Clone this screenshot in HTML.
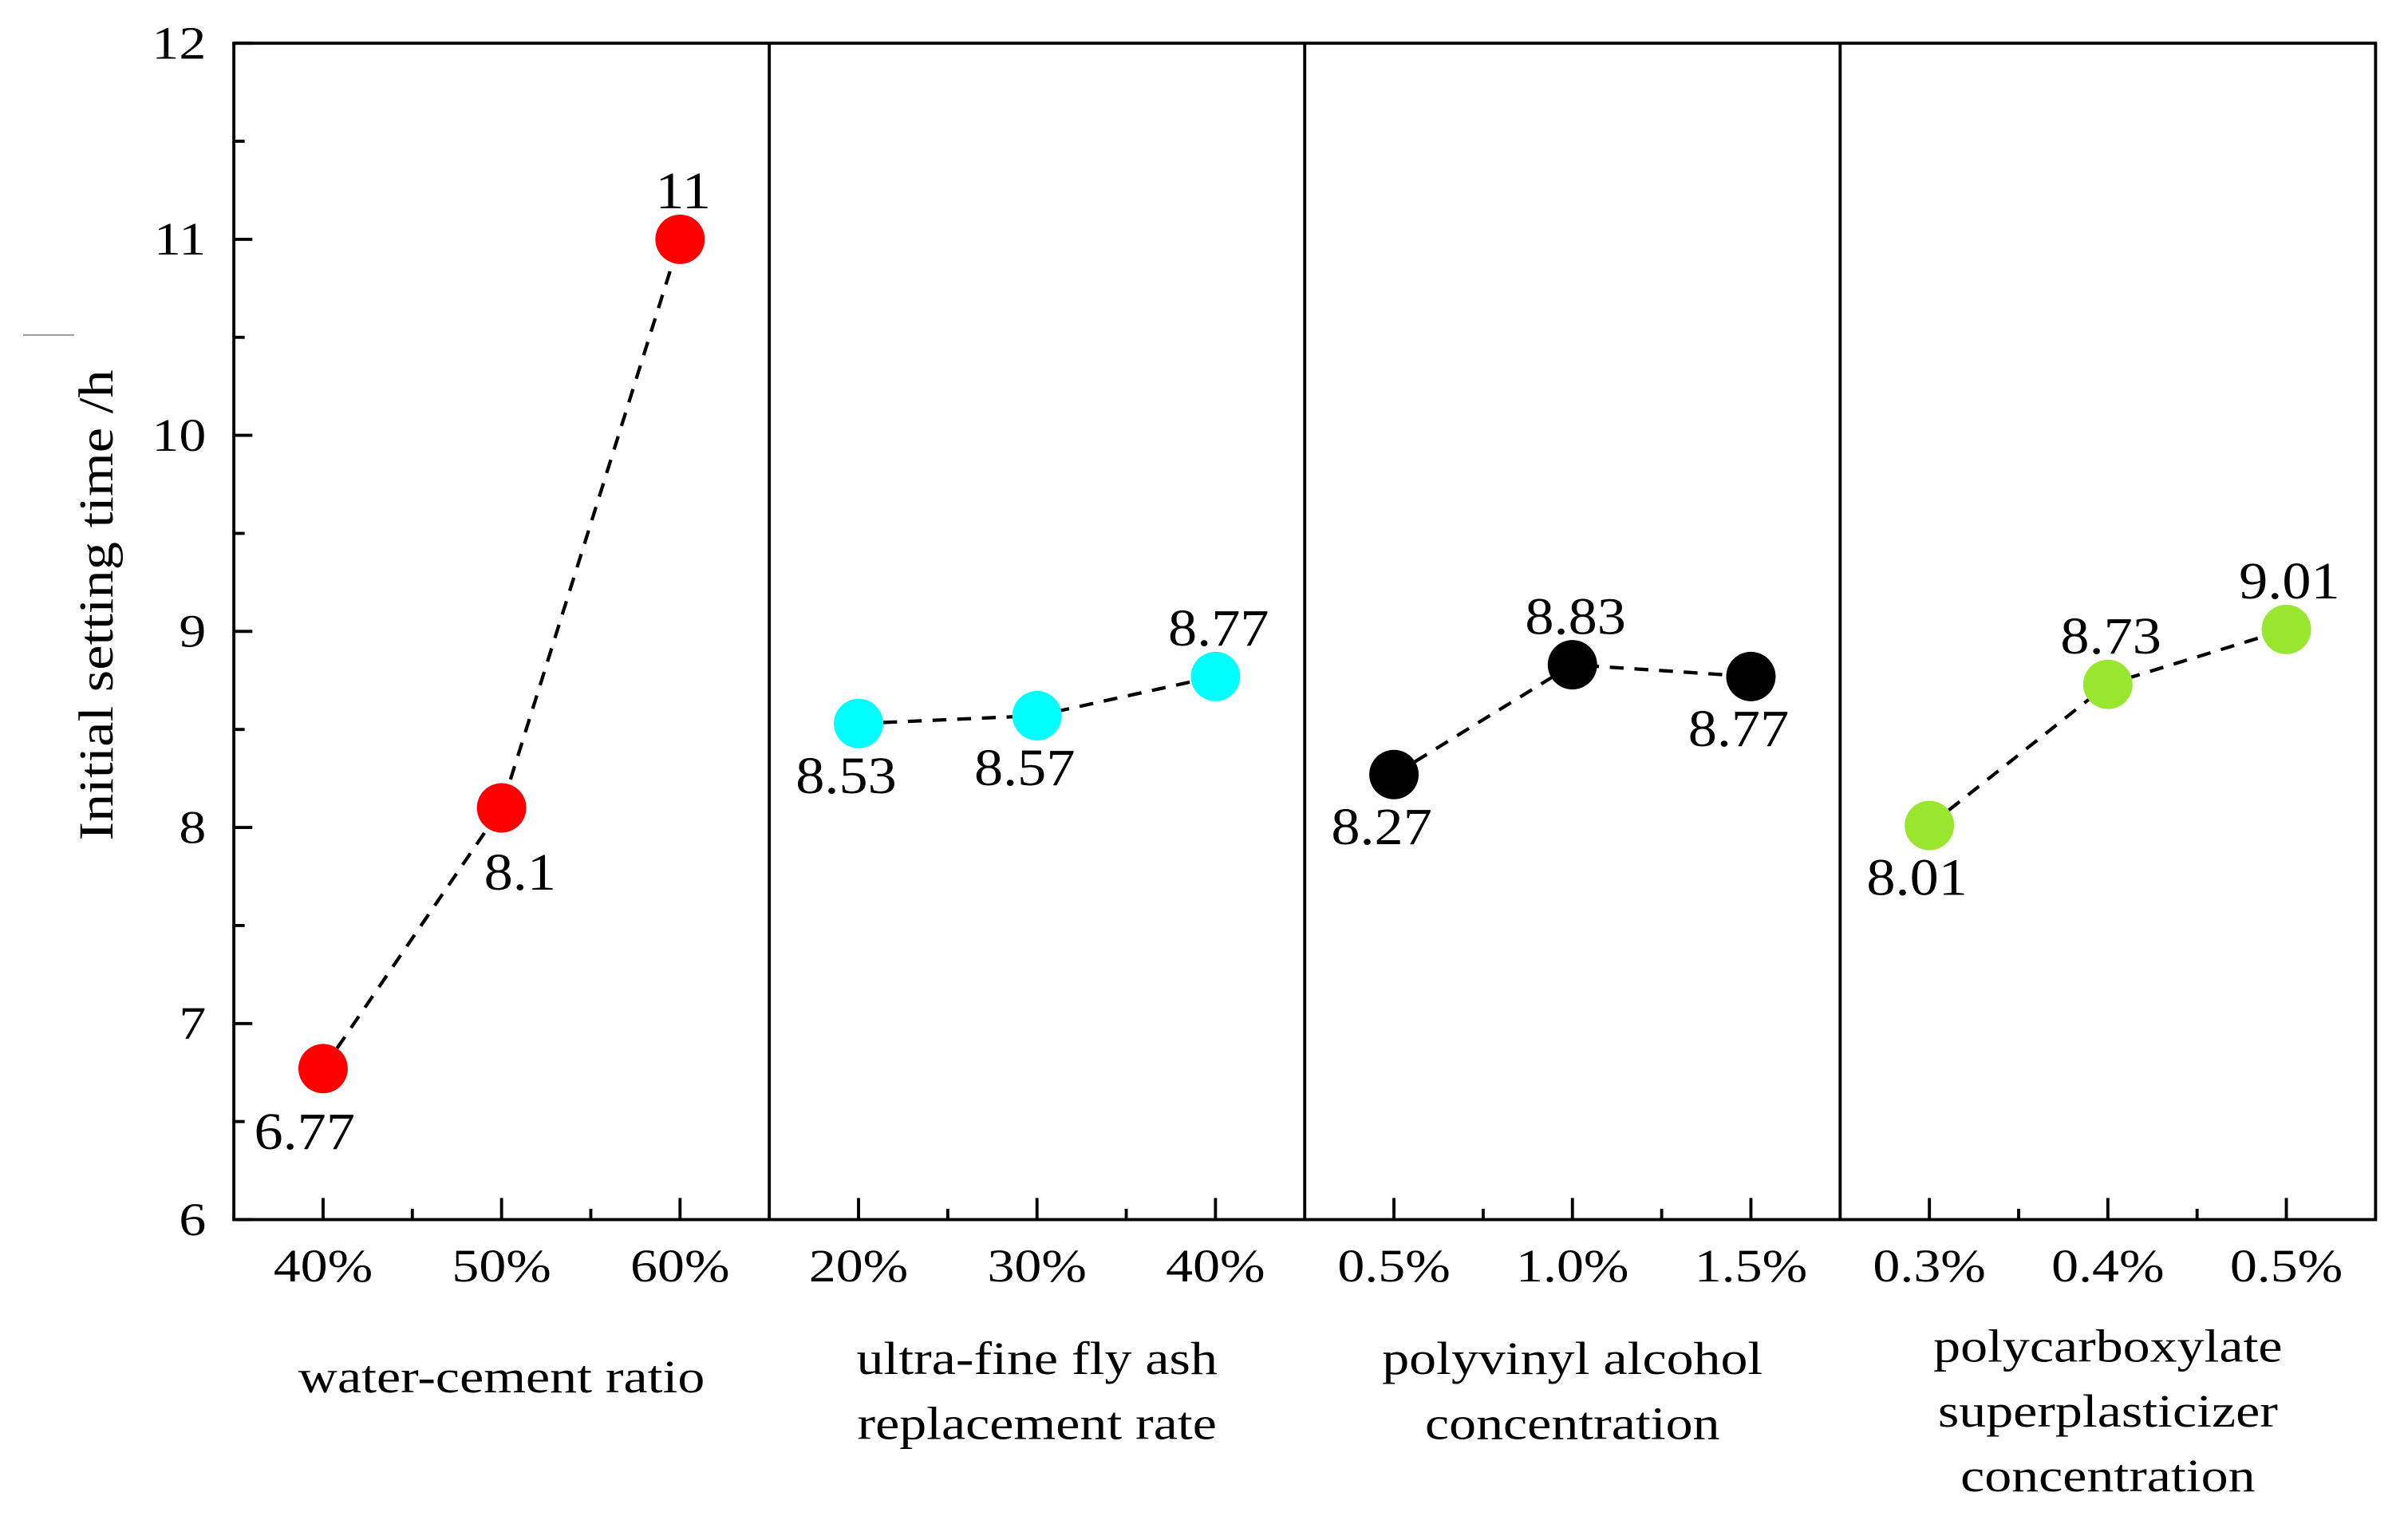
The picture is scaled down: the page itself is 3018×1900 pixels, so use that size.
<!DOCTYPE html>
<html><head><meta charset="utf-8"><style>
html,body{margin:0;padding:0;background:#fff;}
svg{display:block;font-family:"Liberation Serif",serif;}
</style></head><body>
<svg id="chart" width="3018" height="1900" viewBox="0 0 1560 982" preserveAspectRatio="none" xmlns="http://www.w3.org/2000/svg">
<line x1="15" y1="217" x2="48" y2="217" stroke="#999" stroke-width="1"/>
<text id="ytitle" transform="translate(73,392) rotate(-90)" text-anchor="middle" font-size="32" textLength="305" lengthAdjust="spacingAndGlyphs">Initial setting time /h</text>
<g id="g"></g>
</svg>
<script>
const panelTitles = [["water-cement ratio"],["ultra-fine fly ash","replacement rate"],["polyvinyl alcohol","concentration"],["polycarboxylate","superplasticizer","concentration"]];
const categories = [["40%","50%","60%"],["20%","30%","40%"],["0.5%","1.0%","1.5%"],["0.3%","0.4%","0.5%"]];
const seriesValues = [[6.77,8.1,11],[8.53,8.57,8.77],[8.27,8.83,8.77],[8.01,8.73,9.01]];
const valueLabels = [["6.77","8.1","11"],["8.53","8.57","8.77"],["8.27","8.83","8.77"],["8.01","8.73","9.01"]];
const colors = ["#ff0000","#00ffff","#000000","#99e62e"];
const labelPos = [["bl","br","t"],["b","b","t"],["b","t","b"],["b","t","t"]];
const yTicks = [6,7,8,9,10,11,12];

const L=151.5,R=1539,T=28,B=790,yMin=6,yMax=12;
const PW=(R-L)/4;
const y=v=>B-(v-yMin)/(yMax-yMin)*(B-T);
const x=(p,i)=>L+p*PW+(i+0.5)*PW/3;
const NS="http://www.w3.org/2000/svg";
const g=document.getElementById('g');
const stretch=[];
function mk(tag,attrs,txt){const e=document.createElementNS(NS,tag);for(const k in attrs)e.setAttribute(k,attrs[k]);if(txt!==undefined)e.textContent=txt;g.appendChild(e);return e;}

let e=mk('rect',{x:L,y:T,width:R-L,height:B-T,fill:'none',stroke:'#000','stroke-width':2});


for(let p=1;p<4;p++){
  e=mk('line',{x1:L+p*PW,y1:T,x2:L+p*PW,y2:B,stroke:'#000','stroke-width':2});
  
  
}
yTicks.forEach((v,i)=>{
  e=mk('line',{x1:L,y1:y(v),x2:L+12,y2:y(v),stroke:'#000','stroke-width':2});
  
  
  if(i<yTicks.length-1){
    e=mk('line',{x1:L,y1:y(v+0.5),x2:L+7,y2:y(v+0.5),stroke:'#000','stroke-width':2});
    
    
  }
  e=mk('text',{x:L-18,y:y(v)+10,'text-anchor':'end','font-size':30},String(v));
  
  
  stretch.push([e,1.17]);
});
for(let p=0;p<4;p++){
  const cx=L+p*PW+PW/2;
  panelTitles[p].forEach((t,k)=>{
    const n=panelTitles[p].length;
    const yy = n===1?902: (n===2?[890,932][k]:[882,924,966][k]);
    e=mk('text',{x:cx,y:yy,'text-anchor':'middle','font-size':30},t);
    
    
    stretch.push([e,1.17]);
  });
  const pts=seriesValues[p].map((v,i)=>[x(p,i),y(v)]);
  e=mk('polyline',{points:pts.map(q=>q.join(',')).join(' '),fill:'none',stroke:'#000','stroke-width':2.2,'stroke-dasharray':'9,7'});
  
  
  categories[p].forEach((c,i)=>{
    const xx=x(p,i);
    e=mk('line',{x1:xx,y1:B,x2:xx,y2:B-14,stroke:'#000','stroke-width':2});
    
    
    if(i<2){
      e=mk('line',{x1:xx+PW/6,y1:B,x2:xx+PW/6,y2:B-7,stroke:'#000','stroke-width':2});
      
      
    }
    e=mk('text',{x:xx,y:B+40,'text-anchor':'middle','font-size':30},c);
    
    
    stretch.push([e,1.17]);
  });
  pts.forEach((q,i)=>{
    e=mk('circle',{cx:q[0],cy:q[1],r:16,fill:colors[p]});
    
    
    const pos=labelPos[p][i];
    let lx=q[0],ly=q[1];
    if(pos==='t'){ly-=20;lx+=2;}
    else if(pos==='b'){ly+=45;lx-=8;}
    else if(pos==='bl'){ly+=52;lx-=12;}
    else if(pos==='br'){ly+=53;lx+=12;}
    e=mk('text',{x:lx,y:ly,'text-anchor':'middle','font-size':34},valueLabels[p][i]);
    
    
    stretch.push([e,1.1]);
  });
}
stretch.forEach(([el,f])=>{
  const w=el.getComputedTextLength();
  if(w>0){el.setAttribute('textLength',(w*f).toFixed(1));el.setAttribute('lengthAdjust','spacingAndGlyphs');}
});
</script>
</body></html>
